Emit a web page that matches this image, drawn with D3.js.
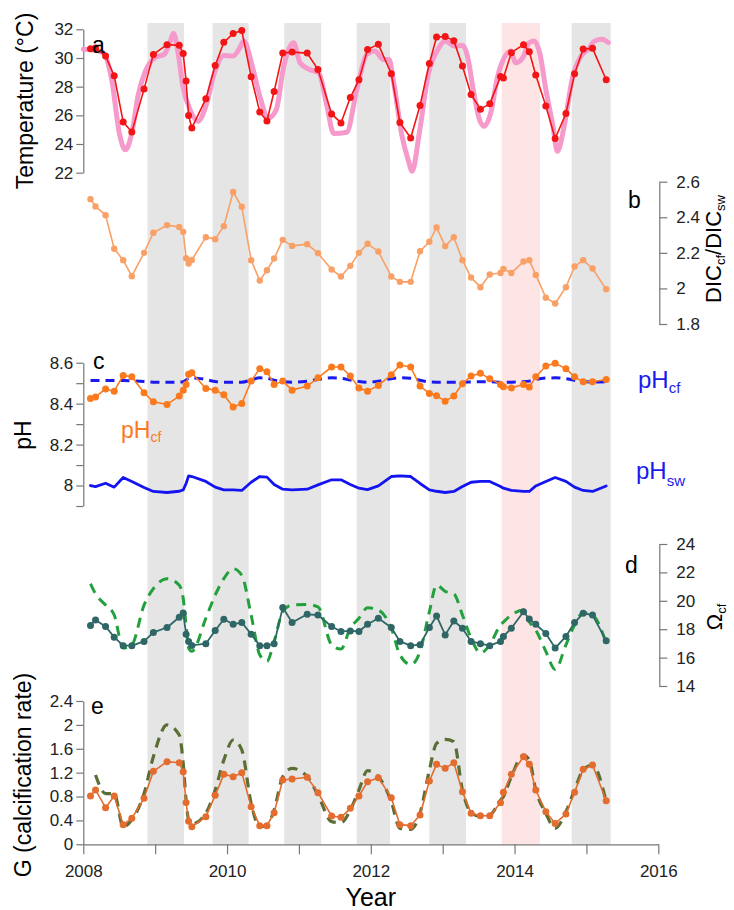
<!DOCTYPE html>
<html>
<head>
<meta charset="utf-8">
<script src="https://cdn.jsdelivr.net/npm/d3@7/dist/d3.min.js"></script>
<style>
  html, body { margin: 0; padding: 0; background: #fff; }
  svg { display: block; font-family: "Liberation Sans", Arial, sans-serif; }
</style>
</head>
<body>
<svg id="chart" width="734" height="910"></svg>
<script>
// ---- sampling dates (decimal year) shared by the coral series ----
const dates = [2008.10, 2008.17, 2008.31, 2008.43, 2008.555, 2008.675, 2008.845, 2008.975, 2009.165, 2009.335,
  2009.39, 2009.43, 2009.465, 2009.51, 2009.705, 2009.835, 2009.955, 2010.085, 2010.205, 2010.335,
  2010.455, 2010.555, 2010.655, 2010.775, 2010.905, 2011.115, 2011.265, 2011.455, 2011.585, 2011.715,
  2011.835, 2011.955, 2012.105, 2012.285, 2012.405, 2012.555, 2012.685, 2012.815, 2012.915, 2013.035,
  2013.155, 2013.275, 2013.395, 2013.525, 2013.655, 2013.805, 2013.845, 2013.955, 2014.125, 2014.205,
  2014.295, 2014.435, 2014.565, 2014.715, 2014.835, 2014.955, 2015.085, 2015.275];

// (a) temperature at sampling (°C)
const tempSample = [30.65, 30.7, 30.13, 28.76, 25.54, 24.84, 27.83, 30.25, 30.93, 30.88,
  30.32, 28.39, 25.99, 25.12, 27.15, 29.48, 31.09, 31.70, 31.91, 28.69,
  26.24, 25.61, 27.66, 30.34, 30.41, 30.34, 29.20, 26.10, 25.47, 27.24,
  28.48, 30.60, 30.95, 28.90, 25.50, 24.42, 26.69, 29.62, 31.46, 31.49,
  31.21, 29.44, 27.45, 26.43, 26.80, 28.70, 28.60, 30.37, 30.93, 30.44,
  28.81, 26.66, 24.38, 26.13, 28.90, 30.62, 30.67, 28.48];

// (a) continuous sea-surface temperature record
const sstDates = [2008.0, 2008.145, 2008.275, 2008.395, 2008.505, 2008.585, 2008.675, 2008.765, 2008.865, 2008.995,
  2009.125, 2009.205, 2009.255, 2009.315, 2009.385, 2009.485, 2009.595, 2009.705, 2009.825, 2009.955,
  2010.085, 2010.165, 2010.235, 2010.345, 2010.455, 2010.575, 2010.685, 2010.785, 2010.925, 2011.015,
  2011.145, 2011.275, 2011.385, 2011.485, 2011.665, 2011.805, 2011.945, 2012.055, 2012.175, 2012.255,
  2012.315, 2012.435, 2012.525, 2012.575, 2012.675, 2012.805, 2012.935, 2013.035, 2013.165, 2013.275,
  2013.345, 2013.425, 2013.505, 2013.575, 2013.675, 2013.755, 2013.845, 2013.945, 2014.015, 2014.115,
  2014.205, 2014.275, 2014.355, 2014.435, 2014.535, 2014.595, 2014.695, 2014.805, 2014.925, 2015.025,
  2015.115, 2015.215, 2015.305];
const sst = [30.6, 30.55, 30.37, 28.5, 24.66, 23.6, 24.77, 27.45, 29.09, 30.02,
  30.25, 31.07, 31.72, 30.48, 28.04, 26.4, 25.59, 26.64, 28.97, 30.18,
  30.13, 30.6, 31.18, 29.55, 27.34, 25.82, 26.4, 29.32, 31.07, 29.67,
  29.2, 28.97, 26.76, 24.73, 24.82, 27.8, 30.25, 30.48, 29.9, 29.9,
  28.39, 24.54, 22.8, 22.1, 24.77, 28.97, 30.6, 31.18, 30.83, 30.88,
  30.13, 27.8, 25.82, 25.24, 26.29, 28.5, 29.9, 30.48, 29.67, 30.02,
  31.07, 31.18, 30.25, 27.8, 25.24, 23.49, 25.36, 28.62, 30.13, 30.6,
  31.18, 31.3, 31.07];

// (b) DIC_cf / DIC_sw
const dicRatio = [2.502, 2.461, 2.412, 2.223, 2.159, 2.069, 2.200, 2.313, 2.356, 2.345,
  2.318, 2.17, 2.14, 2.16, 2.288, 2.277, 2.350, 2.542, 2.459, 2.159,
  2.044, 2.102, 2.168, 2.273, 2.239, 2.249, 2.198, 2.106, 2.067, 2.127,
  2.200, 2.251, 2.208, 2.067, 2.037, 2.037, 2.209, 2.262, 2.343, 2.238,
  2.288, 2.159, 2.061, 2.007, 2.078, 2.087, 2.110, 2.087, 2.151, 2.159,
  2.076, 1.948, 1.915, 2.007, 2.123, 2.159, 2.112, 1.995];

// (c) pH of calcifying fluid (measured), modelled pH_cf, seawater pH
const phCf = [8.425, 8.433, 8.472, 8.461, 8.538, 8.531, 8.453, 8.409, 8.396, 8.437,
  8.466, 8.494, 8.543, 8.551, 8.474, 8.466, 8.443, 8.384, 8.401, 8.510,
  8.571, 8.556, 8.494, 8.510, 8.466, 8.486, 8.526, 8.579, 8.579, 8.535,
  8.477, 8.461, 8.489, 8.541, 8.589, 8.579, 8.486, 8.450, 8.438, 8.412,
  8.437, 8.497, 8.535, 8.548, 8.522, 8.494, 8.482, 8.477, 8.494, 8.481,
  8.531, 8.584, 8.597, 8.571, 8.531, 8.507, 8.507, 8.518];
const phCfModel = [8.513, 8.513, 8.513, 8.513, 8.513, 8.512, 8.508, 8.505, 8.505, 8.505,
  8.507, 8.515, 8.524, 8.526, 8.518, 8.508, 8.505, 8.505, 8.505, 8.515,
  8.526, 8.524, 8.515, 8.507, 8.505, 8.510, 8.518, 8.526, 8.524, 8.515,
  8.508, 8.505, 8.510, 8.522, 8.526, 8.524, 8.514, 8.506, 8.505, 8.505,
  8.505, 8.505, 8.506, 8.507, 8.507, 8.505, 8.505, 8.505, 8.507, 8.510,
  8.518, 8.525, 8.526, 8.522, 8.514, 8.508, 8.505, 8.507];
const phSw = [8.0, 7.995, 8.011, 7.992, 8.039, 8.020, 7.990, 7.971, 7.966, 7.972,
  7.979, 8.01, 8.047, 8.044, 8.020, 7.992, 7.979, 7.979, 7.976, 8.016,
  8.044, 8.041, 8.005, 7.982, 7.979, 7.982, 8.003, 8.028, 8.028, 8.005,
  7.987, 7.980, 7.998, 8.044, 8.047, 8.044, 8.010, 7.979, 7.972, 7.966,
  7.971, 7.995, 8.016, 8.020, 8.020, 7.995, 7.987, 7.976, 7.971, 7.971,
  7.998, 8.020, 8.039, 8.020, 7.992, 7.976, 7.971, 7.998];

// (d) aragonite saturation of calcifying fluid: measured and modelled
const omegaCf = [18.26, 18.65, 18.19, 17.44, 16.84, 16.84, 17.14, 17.77, 18.12, 18.84,
  19.14, 17.65, 17.14, 16.86, 16.98, 17.91, 18.70, 18.35, 18.47, 17.65,
  16.84, 16.84, 16.98, 19.53, 18.47, 19.05, 19.00, 18.19, 17.84, 17.88,
  17.84, 18.35, 18.77, 18.12, 17.14, 16.84, 16.91, 18.12, 18.93, 17.60,
  18.58, 18.07, 17.14, 16.98, 16.84, 17.14, 17.49, 18.07, 19.23, 18.72,
  18.35, 17.70, 16.67, 17.49, 18.47, 19.12, 19.00, 17.19];
const omegaModel = [21.2, 20.5, 19.7, 19.0, 16.67, 16.9, 19.7, 20.86, 21.56, 21.1,
  20.16, 18.3, 16.67, 16.44, 18.77, 20.4, 21.56, 22.26, 21.8, 19.0,
  16.2, 15.74, 17.14, 19.23, 19.7, 19.74, 19.58, 16.9, 16.6, 18.07,
  18.77, 19.51, 19.35, 18.07, 16.2, 15.51, 16.44, 19.23, 21.1, 20.67,
  20.5, 19.0, 17.37, 16.33, 16.9, 18.3, 18.5, 19.0, 19.35, 18.53,
  17.95, 16.44, 15.16, 16.9, 18.3, 19.16, 19.0, 17.02];

// (e) calcification rate G: measured and modelled
const gRate = [0.809, 0.91, 0.613, 0.809, 0.329, 0.435, 0.77, 1.222, 1.384, 1.367,
  1.216, 0.70, 0.385, 0.295, 0.463, 0.82, 1.172, 1.133, 1.20, 0.63,
  0.312, 0.312, 0.53, 1.077, 1.094, 1.122, 0.865, 0.474, 0.452, 0.602,
  0.809, 1.049, 1.116, 0.781, 0.329, 0.312, 0.491, 1.06, 1.339, 1.272,
  1.367, 0.881, 0.518, 0.479, 0.479, 0.697, 0.87, 1.172, 1.467, 1.339,
  0.91, 0.546, 0.35, 0.507, 0.87, 1.255, 1.328, 0.73];
const gModel = [null, 1.16, 0.85, 0.85, 0.295, 0.41, 0.85, 1.467, 2.0, 1.83,
  1.356, 0.74, 0.406, 0.34, 0.52, 0.91, 1.41, 1.747, 1.58, 0.687,
  0.295, 0.32, 0.574, 1.133, 1.272, 1.133, 0.826, 0.38, 0.363, 0.574,
  0.91, 1.233, 1.133, 0.714, 0.267, 0.25, 0.52, 1.244, 1.69, 1.758,
  1.72, 0.91, 0.53, 0.463, 0.49, 0.74, 0.80, 1.133, 1.496, 1.412,
  0.91, 0.518, 0.267, 0.546, 0.91, 1.244, 1.328, 0.714];

// shaded periods [start, end, kind]
const bandStart = [2008.893, 2009.798, 2010.795, 2011.804, 2012.814, 2013.821, 2014.795];
const bandEnd   = [2009.401, 2010.300, 2011.310, 2012.267, 2013.325, 2014.354, 2015.338];
const bandKind  = ["gray", "gray", "gray", "gray", "gray", "pink", "gray"];

// tick values
const xTicks = [2008, 2009, 2010, 2011, 2012, 2013, 2014, 2015, 2016];
const xLabels = [2008, 2010, 2012, 2014, 2016];
const tempTicks = [22, 24, 26, 28, 30, 32];
const dicTicks = [1.8, 2.0, 2.2, 2.4, 2.6];
const phTicks = [7.9, 8.0, 8.1, 8.2, 8.3, 8.4, 8.5, 8.6];
const phLabels = [8.0, 8.2, 8.4, 8.6];
const omegaTicks = [14, 16, 18, 20, 22, 24];
const gTicks = [0, 0.4, 0.8, 1.2, 1.6, 2.0, 2.4];

// ---- drawing ----
const svg = d3.select("#chart");
const AXIS = "#777", TXT = "#222";
const TICKFONT = 17;

const x = d3.scaleLinear().domain([2008, 2016]).range([83.3, 658.3]);
const yT = d3.scaleLinear().domain([22, 32]).range([172.7, 29.3]);
const yD = d3.scaleLinear().domain([1.8, 2.6]).range([324, 181.7]);
const yP = d3.scaleLinear().domain([7.9, 8.6]).range([506, 362.7]);
const yO = d3.scaleLinear().domain([14, 24]).range([686, 544]);
const yG = d3.scaleLinear().domain([0, 2.4]).range([844.3, 701]);

// background bands
svg.append("g").selectAll("rect")
  .data(bandStart.map((s, i) => ({ s, e: bandEnd[i], k: bandKind[i] })))
  .join("rect")
  .attr("x", d => x(d.s))
  .attr("width", d => x(d.e) - x(d.s))
  .attr("y", 23)
  .attr("height", yG(0) - 23)
  .attr("fill", d => d.k === "pink" ? "#fde5e5" : "#e5e5e5");

function styleAxis(g) {
  g.selectAll("path.domain").attr("stroke", AXIS).attr("stroke-width", 1.2);
  g.selectAll(".tick line").attr("stroke", AXIS).attr("stroke-width", 1.2);
  g.selectAll(".tick text").attr("fill", TXT).style("font-size", TICKFONT + "px")
    .style("font-family", "'Liberation Sans', Arial, sans-serif");
}

function leftAxis(scale, ticks, fmt) {
  const g = svg.append("g").attr("transform", `translate(${x(2008)},0)`)
    .call(d3.axisLeft(scale).tickValues(ticks).tickSize(7).tickSizeOuter(0).tickPadding(3).tickFormat(fmt));
  styleAxis(g);
  return g;
}
function rightAxis(scale, ticks, fmt) {
  const g = svg.append("g").attr("transform", `translate(${x(2016) + 1},0)`)
    .call(d3.axisRight(scale).tickValues(ticks).tickSize(8).tickSizeOuter(0).tickPadding(9).tickFormat(fmt));
  styleAxis(g);
  return g;
}
const fmtNum = d => d3.format("~g")(+d.toFixed(2));

leftAxis(yT, tempTicks, fmtNum);
rightAxis(yD, dicTicks, fmtNum);
leftAxis(yP, phTicks, d => phLabels.some(v => Math.abs(v - d) < 1e-6) ? fmtNum(d) : "");
rightAxis(yO, omegaTicks, fmtNum);
leftAxis(yG, gTicks, fmtNum);

// x axis
const gx = svg.append("g").attr("transform", `translate(0,${yG(0)})`)
  .call(d3.axisBottom(x).tickValues(xTicks).tickSize(10).tickSizeOuter(0).tickPadding(11)
    .tickFormat(d => xLabels.includes(d) ? String(d) : ""));
styleAxis(gx);

// series helpers
function lineSeries(xs, ys, yScale, color, width, opts = {}) {
  const pts = xs.map((d, i) => [d, ys[i]]);
  const line = d3.line()
    .defined(d => d[1] != null)
    .x(d => x(d[0])).y(d => yScale(d[1]))
    .curve(opts.curve || d3.curveLinear);
  svg.append("path").datum(pts)
    .attr("d", line)
    .attr("fill", "none")
    .attr("stroke", color)
    .attr("stroke-width", width)
    .attr("stroke-linejoin", "round")
    .attr("stroke-linecap", opts.cap || "round")
    .attr("stroke-dasharray", opts.dash || null)
    .attr("opacity", opts.opacity || 1);
  if (opts.r) {
    svg.append("g").selectAll("circle").data(pts.filter(d => d[1] != null)).join("circle")
      .attr("cx", d => x(d[0])).attr("cy", d => yScale(d[1]))
      .attr("r", opts.r).attr("fill", color);
  }
}

// (a)
lineSeries(sstDates, sst, yT, "#f59acb", 5, { curve: d3.curveMonotoneX });
lineSeries(dates, tempSample, yT, "#f21515", 1.6, { r: 3.5 });
// (b)
lineSeries(dates, dicRatio, yD, "#f9a066", 1.6, { r: 3.2 });
// (c)
lineSeries(dates, phCfModel, yP, "#1a1aee", 3, { dash: "9,6", cap: "butt", curve: d3.curveMonotoneX });
lineSeries(dates, phSw, yP, "#1414f0", 2.8);
lineSeries(dates, phCf, yP, "#fb7a1e", 1.6, { r: 3.5 });
// (d)
lineSeries(dates, omegaModel, yO, "#22a03c", 3, { dash: "10,7", cap: "butt", curve: d3.curveMonotoneX });
lineSeries(dates, omegaCf, yO, "#2f6666", 1.8, { r: 3.5 });
// (e)
lineSeries(dates, gModel, yG, "#5b6e35", 3.2, { dash: "10,7", cap: "butt", curve: d3.curveMonotoneX });
lineSeries(dates, gRate, yG, "#e36c2e", 1.6, { r: 3.5 });

// panel letters
const letters = [["a", 92, 53], ["b", 628, 208], ["c", 93, 369], ["d", 625, 573], ["e", 91, 714]];
svg.append("g").selectAll("text").data(letters).join("text")
  .attr("x", d => d[1]).attr("y", d => d[2])
  .style("font-size", "23px").attr("fill", "#000").text(d => d[0]);

// axis titles
function vTitle(xPos, yPos, build, size) {
  const t = svg.append("text")
    .attr("transform", `translate(${xPos},${yPos}) rotate(-90)`)
    .attr("text-anchor", "middle")
    .style("font-size", size + "px")
    .attr("fill", "#000");
  build(t);
  return t;
}
vTitle(33, 101, t => t.text("Temperature (°C)"), 23);
vTitle(31, 435, t => t.text("pH"), 23);
vTitle(31, 775, t => t.text("G (calcification rate)"), 23);
vTitle(721, 249, t => {
  t.append("tspan").text("DIC");
  t.append("tspan").attr("dy", 4).style("font-size", "13px").text("cf");
  t.append("tspan").attr("dy", -4).text("/DIC");
  t.append("tspan").attr("dy", 4).style("font-size", "13px").text("sw");
}, 22);
vTitle(722, 617, t => {
  t.append("tspan").text("Ω");
  t.append("tspan").attr("dy", 4).style("font-size", "13px").text("cf");
}, 22);

svg.append("text").attr("x", x(2012)).attr("y", 906).attr("text-anchor", "middle")
  .style("font-size", "25px").attr("fill", "#000").text("Year");

// in-plot series labels
function subLabel(xp, yp, main, sub, color, size, subSize, shift) {
  const t = svg.append("text").attr("x", xp).attr("y", yp)
    .style("font-size", size + "px").attr("fill", color);
  t.append("tspan").text(main);
  t.append("tspan").attr("dy", shift).style("font-size", subSize + "px").text(sub);
}
subLabel(121, 438, "pH", "cf", "#fb7a1e", 23, 14, 4);
subLabel(638, 388, "pH", "cf", "#1a1aee", 24, 15, 5);
subLabel(636, 479, "pH", "sw", "#1a1aee", 24, 15, 7);
</script>
</body>
</html>
